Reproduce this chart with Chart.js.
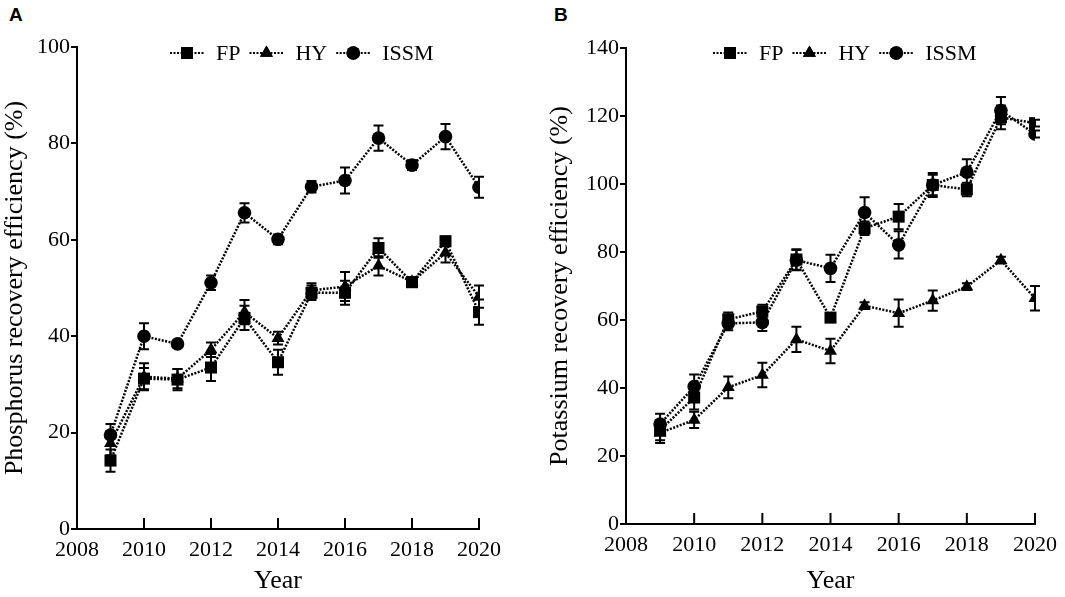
<!DOCTYPE html>
<html>
<head>
<meta charset="utf-8">
<script src="https://cdn.jsdelivr.net/npm/chart.js@4.4.0/dist/chart.umd.min.js"></script>
<style>
  body { margin: 0; background: #fff; width: 1065px; height: 597px; position: relative; overflow: hidden; }
  canvas { position: absolute; top: 0; }
  .tag { position: absolute; top: 4px; font: bold 19px "Liberation Sans", Arial, sans-serif; color: #000; }
</style>
</head>
<body>
<div class="tag" style="left:9px">A</div>
<div class="tag" style="left:554px">B</div>
<canvas id="chartA" width="532" height="597" style="left:0"></canvas>
<canvas id="chartB" width="520" height="597" style="left:545px"></canvas>
<script>
const years = [2009, 2010, 2011, 2012, 2013, 2014, 2015, 2016, 2017, 2018, 2019, 2020];
const seriesNames = ["FP", "HY", "ISSM"];

// Panel A - phosphorus recovery efficiency (%)
const pFP = [14.2, 31.2, 31.0, 33.5, 43.8, 34.6, 49.0, 49.0, 58.3, 51.2, 59.7, 45.0];
const pFPErr = [2.3, 2.2, 2.2, 2.8, 2.5, 2.6, 1.5, 2.5, 2.0, 1.0, 1.0, 2.6];
const pHY = [17.8, 31.6, 31.2, 37.2, 45.0, 39.6, 49.5, 50.3, 54.6, 51.3, 57.3, 48.2];
const pHYErr = [2.5, 2.8, 2.0, 1.5, 2.5, 1.3, 1.5, 3.0, 2.0, 1.0, 2.0, 2.3];
const pISSM = [19.5, 40.0, 38.4, 51.1, 65.6, 60.1, 71.0, 72.3, 81.1, 75.5, 81.4, 70.9];
const pISSMErr = [2.3, 2.7, 0.5, 1.5, 2.0, 1.0, 1.2, 2.7, 2.6, 1.0, 2.6, 2.2];

// Panel B - potassium recovery efficiency (%)
const kFP = [27.6, 37.2, 60.2, 62.5, 77.8, 60.7, 87.0, 90.4, 99.7, 98.4, 119.6, 117.9];
const kFPErr = [3.0, 3.5, 2.0, 2.0, 3.0, 1.0, 2.0, 3.7, 3.0, 2.0, 3.5, 1.0];
const kHY = [26.8, 30.6, 40.2, 43.8, 54.3, 50.9, 64.2, 62.0, 65.7, 69.8, 77.6, 66.4];
const kHYErr = [3.0, 2.4, 3.2, 3.6, 3.7, 3.6, 1.0, 4.0, 3.0, 1.0, 1.0, 3.6];
const kISSM = [29.4, 40.4, 59.0, 59.3, 77.6, 75.2, 91.6, 82.1, 99.7, 103.5, 121.6, 114.7];
const kISSMErr = [3.0, 3.6, 2.0, 2.5, 3.0, 4.0, 4.5, 4.0, 3.5, 3.8, 4.0, 1.0];

const serif = "Liberation Serif";
Chart.defaults.font.family = serif;
Chart.defaults.color = "#000";

const markers = [
  { style: "rect", radius: 8.5 },
  { style: "triangle", radius: 7.5 },
  { style: "circle", radius: 6.8 }
];

function makeDataset(i, values, errors) {
  return {
    label: seriesNames[i],
    data: years.map((y, j) => ({ x: y, y: values[j] })),
    errors: errors,
    borderColor: "#000",
    backgroundColor: "#000",
    borderWidth: 2.5,
    borderDash: [2, 1.5],
    pointStyle: markers[i].style,
    pointRadius: markers[i].radius,
    pointBorderWidth: 0,
    fill: false,
    tension: 0
  };
}

// error bars drawn through the y scale
const errorBars = {
  id: "errorBars",
  afterDatasetsDraw(chart) {
    const ctx = chart.ctx;
    const ys = chart.scales.y;
    ctx.save();
    ctx.strokeStyle = "#000";
    ctx.lineWidth = 2;
    ctx.setLineDash([]);
    chart.data.datasets.forEach((ds, di) => {
      const meta = chart.getDatasetMeta(di);
      meta.data.forEach((pt, j) => {
        const v = ds.data[j].y, e = ds.errors[j];
        const top = ys.getPixelForValue(v + e);
        const bot = ys.getPixelForValue(v - e);
        ctx.beginPath();
        ctx.moveTo(pt.x, top); ctx.lineTo(pt.x, bot);
        ctx.moveTo(pt.x - 5, top); ctx.lineTo(pt.x + 5, top);
        ctx.moveTo(pt.x - 5, bot); ctx.lineTo(pt.x + 5, bot);
        ctx.stroke();
      });
    });
    ctx.restore();
  }
};

// x ticks pointing up into the plot
const innerTicks = {
  id: "innerTicks",
  afterDraw(chart) {
    const ctx = chart.ctx;
    const xs = chart.scales.x;
    ctx.save();
    ctx.strokeStyle = "#000";
    ctx.lineWidth = 2;
    ctx.beginPath();
    xs.ticks.forEach(t => {
      if (t.value === xs.min) return;
      const px = xs.getPixelForValue(t.value);
      ctx.moveTo(px, xs.top);
      ctx.lineTo(px, xs.top - 11);
    });
    ctx.stroke();
    ctx.restore();
  }
};

// legend: dotted line - marker - dotted line, then name
const lineLegend = {
  id: "lineLegend",
  afterDraw(chart, args, opts) {
    const ctx = chart.ctx;
    let x = opts.x;
    const y = opts.y;
    ctx.save();
    ctx.font = "22px " + serif;
    ctx.textBaseline = "middle";
    ctx.fillStyle = "#000";
    chart.data.datasets.forEach(ds => {
      ctx.strokeStyle = "#000";
      ctx.lineWidth = 2;
      ctx.setLineDash([2, 1.5]);
      ctx.beginPath();
      ctx.moveTo(x, y); ctx.lineTo(x + 34, y);
      ctx.stroke();
      ctx.setLineDash([]);
      Chart.helpers.drawPoint(ctx, { pointStyle: ds.pointStyle, radius: ds.pointRadius, borderWidth: 0 }, x + 17, y);
      ctx.fill();
      ctx.fillText(ds.label, x + 46, y + 1);
      x += 46 + ctx.measureText(ds.label).width + 9;
    });
    ctx.restore();
  }
};

function makeChart(id, cfg) {
  return new Chart(document.getElementById(id), {
    type: "line",
    data: { datasets: cfg.datasets },
    options: {
      responsive: false,
      animation: false,
      events: [],
      layout: { padding: { left: 0, top: cfg.top, right: cfg.padRight, bottom: 0 } },
      plugins: {
        legend: { display: false },
        tooltip: { enabled: false },
        lineLegend: { x: cfg.legendX, y: 53 }
      },
      scales: {
        x: {
          type: "linear",
          min: 2008, max: 2020,
          grid: { display: false, drawTicks: false },
          border: { display: true, color: "#000", width: 2 },
          ticks: { stepSize: 2, color: "#000", padding: 8, font: { family: serif, size: 22, weight: "normal" }, callback: v => String(v), maxRotation: 0 },
          title: { display: true, text: "Year", color: "#000", font: { family: serif, size: 26 }, padding: 0 },
          afterFit: s => { s.height = cfg.xHeight; }
        },
        y: {
          min: 0, max: cfg.yMax,
          grid: { display: true, drawOnChartArea: false, drawTicks: true, tickLength: 6, color: "#000", lineWidth: 2 },
          border: { display: true, color: "#000", width: 2 },
          ticks: { stepSize: 20, color: "#000", padding: 1, font: { family: serif, size: 22, weight: "normal" } },
          title: { display: true, text: cfg.yTitle, color: "#000", font: { family: serif, size: 26 }, padding: 0 },
          afterFit: s => { s.width = cfg.yWidth; }
        }
      }
    },
    plugins: [errorBars, innerTicks, lineLegend]
  });
}

makeChart("chartA", {
  datasets: [makeDataset(0, pFP, pFPErr), makeDataset(1, pHY, pHYErr), makeDataset(2, pISSM, pISSMErr)],
  yMax: 100,
  yTitle: "Phosphorus recovery efficiency (%)",
  padRight: 53, top: 47,
  yWidth: 77, xHeight: 68,
  legendX: 170
});

makeChart("chartB", {
  datasets: [makeDataset(0, kFP, kFPErr), makeDataset(1, kHY, kHYErr), makeDataset(2, kISSM, kISSMErr)],
  yMax: 140,
  yTitle: "Potassium recovery efficiency (%)",
  padRight: 27, top: 48,
  yWidth: 81, xHeight: 73,
  legendX: 168
});
</script>
</body>
</html>
